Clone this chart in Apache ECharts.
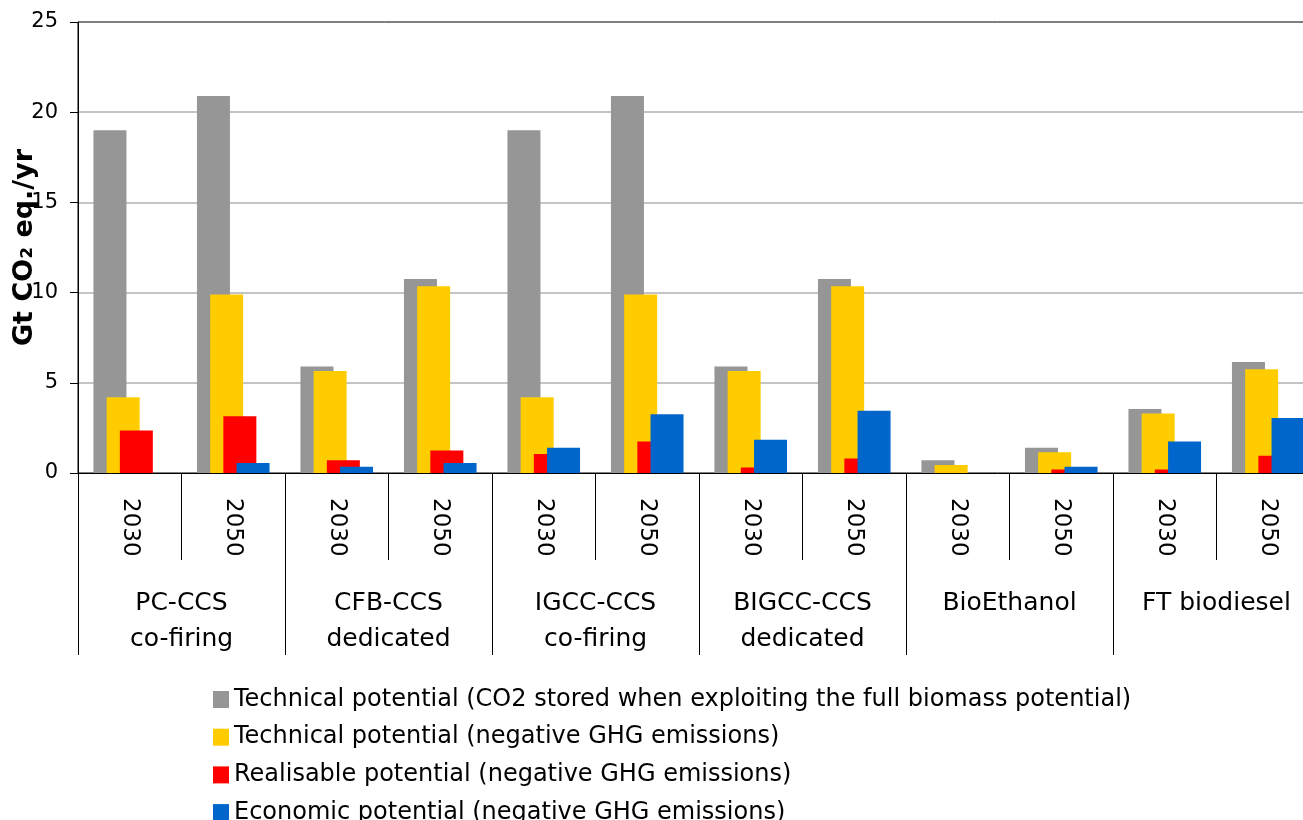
<!DOCTYPE html>
<html>
<head>
<meta charset="utf-8">
<script src="https://cdn.jsdelivr.net/npm/echarts@6/dist/echarts.min.js"></script>
<style>
  html, body { margin: 0; padding: 0; background: #fff; }
  #chart { width: 1303px; height: 820px; }
</style>
</head>
<body>
<div id="chart"></div>
<script>
// Year sub-categories and the technology groups they belong to
const years = ['2030', '2050', '2030', '2050', '2030', '2050', '2030', '2050', '2030', '2050', '2030', '2050'];
const groups = ['PC-CCS\nco-firing', 'CFB-CCS\ndedicated', 'IGCC-CCS\nco-firing', 'BIGCC-CCS\ndedicated', 'BioEthanol', 'FT biodiesel'];

// Potentials in Gt CO2 eq./yr
const technicalStored = [19.0, 20.9, 5.9, 10.75, 19.0, 20.9, 5.9, 10.75, 0.7, 1.4, 3.55, 6.15];
const technicalNegative = [4.2, 9.9, 5.65, 10.35, 4.2, 9.9, 5.65, 10.35, 0.45, 1.15, 3.3, 5.75];
const realisableNegative = [2.35, 3.15, 0.7, 1.25, 1.05, 1.75, 0.3, 0.8, 0, 0.2, 0.2, 0.95];
const economicNegative = [0, 0.55, 0.35, 0.55, 1.4, 3.25, 1.85, 3.45, 0, 0.35, 1.75, 3.05];

const yTicks = [0, 5, 10, 15, 20, 25];

const seriesNames = [
  'Technical potential (CO2 stored when exploiting the full biomass potential)',
  'Technical potential (negative GHG emissions)',
  'Realisable potential (negative GHG emissions)',
  'Economic potential (negative GHG emissions)'
];
const seriesData = [technicalStored, technicalNegative, realisableNegative, economicNegative];
const colors = ['#969696', '#ffcc00', '#ff0000', '#0066cc'];

const FONT = '"DejaVu Sans", "Liberation Sans", Arial, sans-serif';

const chart = echarts.init(document.getElementById('chart'), null, { renderer: 'canvas' });

chart.setOption({
  animation: false,
  backgroundColor: '#ffffff',
  textStyle: { fontFamily: FONT, color: '#000' },
  grid: {
    left: 78, top: 22, right: -17, bottom: 347,
    outerBoundsMode: 'none',
    containLabel: false,
    show: true, borderColor: '#000', borderWidth: 1, backgroundColor: 'transparent'
  },
  legend: {
    orient: 'vertical',
    left: 213,
    top: 687.5,
    height: 220,
    padding: 0,
    itemWidth: 16,
    itemHeight: 17,
    itemGap: 13.7,
    icon: 'rect',
    textStyle: { fontFamily: FONT, fontSize: 24, lineHeight: 23, color: '#000' },
    data: seriesNames
  },
  xAxis: [
    {
      type: 'category',
      data: years,
      position: 'bottom',
      axisLine: { show: true, lineStyle: { color: '#000', width: 1 } },
      axisTick: { show: true, length: 87, interval: 0, lineStyle: { color: '#000', width: 1 } },
      axisLabel: { interval: 0, rotate: -90, margin: 25, fontSize: 23, color: '#000', fontFamily: FONT },
      splitLine: { show: false }
    },
    {
      type: 'category',
      data: groups,
      position: 'bottom',
      axisLine: { show: false },
      axisTick: { show: true, length: 182, interval: 0, lineStyle: { color: '#000', width: 1 } },
      axisLabel: { interval: 0, margin: 112, fontSize: 25, lineHeight: 36, color: '#000', fontFamily: FONT },
      splitLine: { show: false }
    }
  ],
  yAxis: {
    type: 'value',
    min: yTicks[0],
    max: yTicks[yTicks.length - 1],
    interval: 5,
    name: 'Gt CO₂ eq./yr',
    nameLocation: 'middle',
    nameGap: 40,
    nameMoveOverlap: false,
    nameTextStyle: { fontFamily: FONT, fontSize: 27, fontWeight: 'bold', color: '#000' },
    axisLine: { show: true, lineStyle: { color: '#000', width: 1 } },
    axisTick: { show: true, length: 8, lineStyle: { color: '#000', width: 1 } },
    axisLabel: { margin: 20, fontSize: 21, color: '#000', fontFamily: FONT },
    splitLine: { show: true, showMinLine: false, showMaxLine: false, lineStyle: { color: '#c4c4c4', width: 2 } }
  },
  series: seriesNames.map((name, i) => ({
    name: name,
    type: 'bar',
    xAxisIndex: 0,
    data: seriesData[i],
    barWidth: 33,
    barGap: '-60%',
    itemStyle: { color: colors[i] }
  }))
});
</script>
</body>
</html>
